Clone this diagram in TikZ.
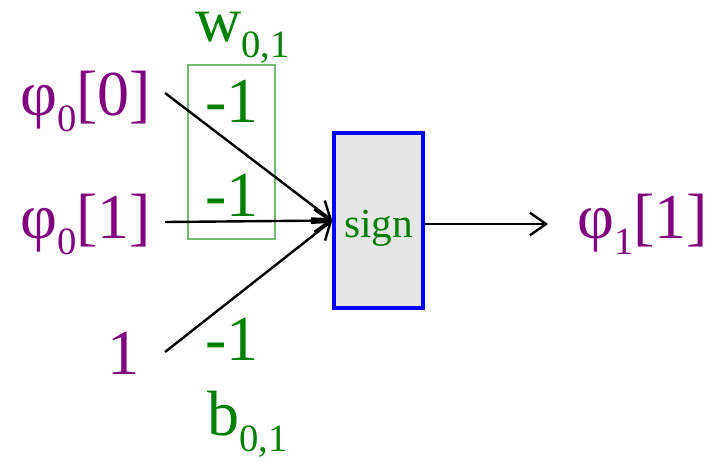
\documentclass[tikz,border=0pt]{standalone}
\usepackage{fontspec}
\setmainfont{Liberation Serif}
\usetikzlibrary{arrows.meta,positioning}
\definecolor{sigpurple}{RGB}{128,0,128}
\definecolor{wgreen}{RGB}{0,128,0}
\definecolor{boxgray}{RGB}{230,230,230}
\newcommand{\sbs}[1]{\raisebox{-0.25em}{\fontsize{29}{30}\selectfont#1}}
\tikzset{
  signal/.style={text=sigpurple, anchor=base west, inner sep=0pt,
    font=\fontsize{48}{50}\selectfont},
  weight/.style={text=wgreen, anchor=base west, inner sep=0pt,
    font=\fontsize{48}{50}\selectfont},
  neuron/.style={draw=blue, line width=2.6pt, fill=boxgray,
    minimum width=66.75pt, minimum height=131pt, inner sep=0pt,
    text height=25pt, text depth=0pt, text=wgreen, font=\fontsize{31}{32}\selectfont},
  arrow/.style={-{Straight Barb[length=12pt,width=17pt]}, line width=1.8pt, black},
}
\begin{document}
\begin{tikzpicture}[x=0.75pt, y=-0.75pt]
    \useasboundingbox (0,0) rectangle (707,461);
    % inputs
    \node[signal] (in0) at (20,115) {φ\sbs{0}[0]};
    \node[signal] (in1) at (20,238) {φ\sbs{0}[1]};
    \node[signal] (bias) at (107,374) {1};
    % weights and bias
    \draw[wgreen!55, line width=1pt] (188,65) rectangle (275,239);
    \node[weight] (wlab) at (195,41) {w\sbs{0,1}};
    \node[weight] (w0) at (205,122) {-1};
    \node[weight] (w1) at (205,216) {-1};
    \node[weight] (b0) at (205,360) {-1};
    \node[weight] (blab) at (207,435) {b\sbs{0,1}};
    % unit and output
    \node[neuron] (sum) at (378.5,220.5) {sign};
    \node[signal] (out) at (577,238) {φ\sbs{1}[1]};
    \coordinate (s0) at (165,93);
    \coordinate (s1) at (165,222);
    \coordinate (s2) at (165,352);
    \coordinate (o1) at (548,224);
    \draw[arrow] (s0) -- (sum.west);
    \draw[arrow] (s1) -- (sum.west);
    \draw[arrow] (s2) -- (sum.west);
    \draw[arrow] (sum.east |- o1) -- (o1);
\end{tikzpicture}
\end{document}
